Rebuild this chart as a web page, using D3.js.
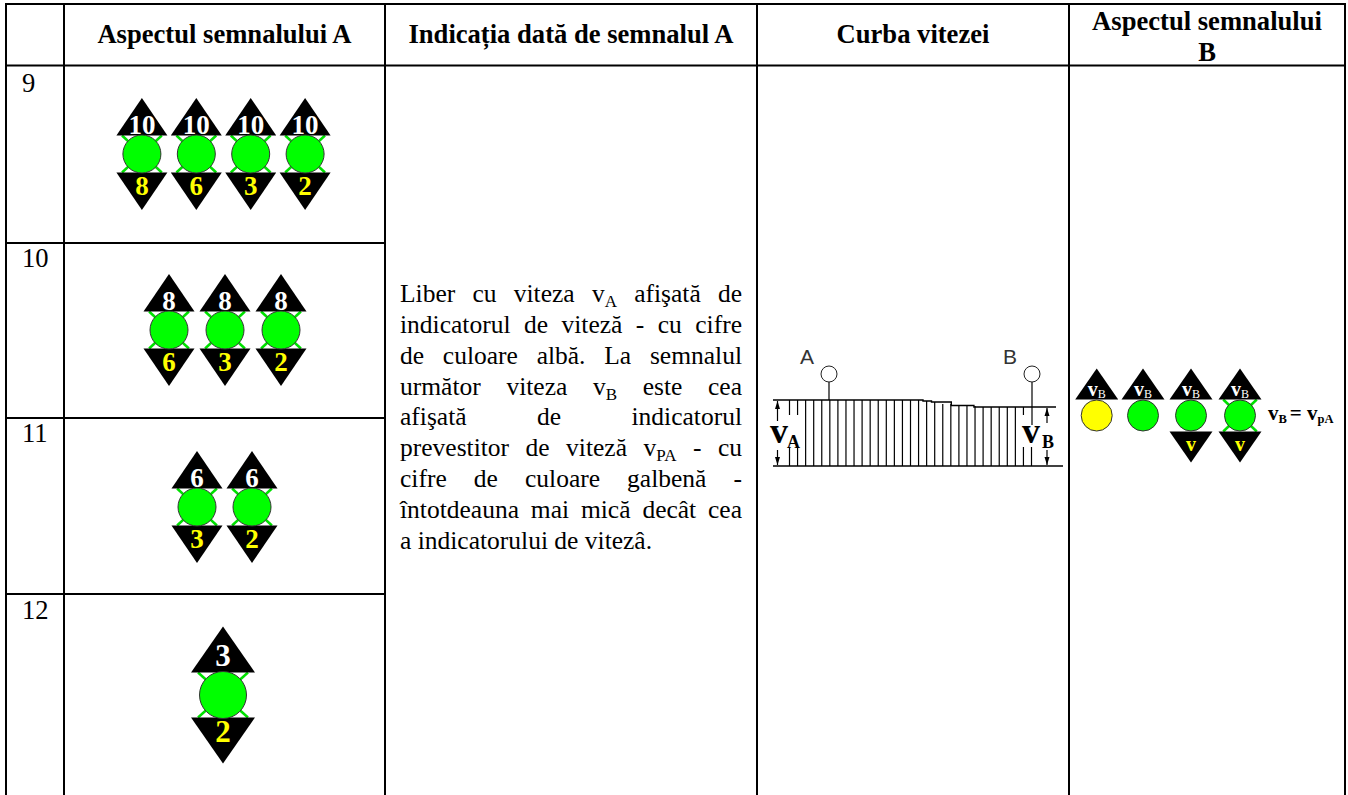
<!DOCTYPE html>
<meta charset="utf-8">
<style>
  html, body { margin: 0; background: #fff; }
  svg { display: block; }
  text { font-family: "Liberation Serif", serif; }
</style>
<script src="https://d3js.org/d3.v7.min.js"></script>
<div id="my_dataviz"></div>
<script>
// table text
var headers = ["Aspectul semnalului A", "Indicația dată de semnalul A", "Curba vitezei"];
var lastHeader = ["Aspectul semnalului", "B"];
var rowLabels = ["9", "10", "11", "12"];

// speed shown on each signal of each row
var upperValues = [["10", "10", "10", "10"], ["8", "8", "8"], ["6", "6"], ["3"]];
var lowerValues = [["8", "6", "3", "2"], ["6", "3", "2"], ["3", "2"], ["2"]];

// description, one entry per printed line (sub = subscript)
var descLines = [
  [["Liber cu viteza v"], ["A", "sub"], [" afişată de"]],
  [["indicatorul de viteză - cu cifre"]],
  [["de culoare albă. La semnalul"]],
  [["următor viteza v"], ["B", "sub"], [" este cea"]],
  [["afişată de indicatorul"]],
  [["prevestitor de viteză v"], ["PA", "sub"], [" - cu"]],
  [["cifre de culoare galbenă -"]],
  [["întotdeauna mai mică decât cea"]],
  [["a indicatorului de vitezâ."]]
];

// speed curve: speed at each hatch
var hatchSpeeds = [66, 66, 66, 66, 66, 66, 66, 66, 66, 66, 66, 66, 66, 66, 66, 66, 66, 65, 64, 62, 62, 60, 60, 60, 59, 59, 59, 59, 59, 59, 59];
var curveStations = [0, 53, 53, 56, 56, 63, 63, 71, 71, 100];
var curveSpeeds = [66, 66, 65, 65, 64, 64, 60.5, 60.5, 59, 59];

// signal B variants
var bColors = ["#ffff00", "#00ff00", "#00ff00", "#00ff00"];
var bLower = [false, false, true, true];
var bCross = [false, false, false, true];

var W = 1348, H = 795;
var svg = d3.select("#my_dataviz").append("svg").attr("width", W).attr("height", H);

// grid
var colX = [6, 64, 385, 757, 1069, 1345];
var rowY = [4, 65.5, 243, 418, 594];
var ink = "#000";

function line(x1, y1, x2, y2, w, c) {
  return svg.append("line").attr("x1", x1).attr("y1", y1).attr("x2", x2).attr("y2", y2)
    .attr("stroke", c || ink).attr("stroke-width", w || 1);
}

[rowY[0], rowY[1]].forEach(function(y) { line(colX[0] - 1, y, colX[5] + 1, y, 2); });
[rowY[2], rowY[3], rowY[4]].forEach(function(y) { line(colX[0], y, colX[2], y, 2); });
colX.forEach(function(x) { line(x, rowY[0], x, H, 2); });

// header
var colCenter = [224.5, 571, 913];
headers.forEach(function(h, i) {
  svg.append("text").attr("x", colCenter[i]).attr("y", 43).attr("text-anchor", "middle")
    .attr("font-weight", "bold").attr("font-size", 26.6).text(h);
});
lastHeader.forEach(function(h, i) {
  svg.append("text").attr("x", 1207).attr("y", 30 + i * 30.5).attr("text-anchor", "middle")
    .attr("font-weight", "bold").attr("font-size", 26.6).text(h);
});

// row numbers
var labelY = [92, 267, 442, 619];
rowLabels.forEach(function(l, i) {
  svg.append("text").attr("x", 22).attr("y", labelY[i]).attr("font-size", 26.6).text(l);
});

// one signal: triangles above and below a lamp
function signal(g, o) {
  var s = o.size; // half width of triangle
  if (o.cross) {
    g.append("line").attr("x1", -s * 0.78).attr("y1", -o.gap).attr("x2", s * 0.78).attr("y2", o.gap)
      .attr("stroke", "#00e000").attr("stroke-width", 2.5);
    g.append("line").attr("x1", s * 0.78).attr("y1", -o.gap).attr("x2", -s * 0.78).attr("y2", o.gap)
      .attr("stroke", "#00e000").attr("stroke-width", 2.5);
  }
  g.append("path").attr("fill", ink)
    .attr("d", "M" + (-s) + "," + (-o.gap) + "L0," + (-o.gap - o.tri) + "L" + s + "," + (-o.gap) + "Z");
  if (o.lower !== false) {
    g.append("path").attr("fill", ink)
      .attr("d", "M" + (-s) + "," + o.gap + "L0," + (o.gap + o.tri) + "L" + s + "," + o.gap + "Z");
  }
  g.append("circle").attr("r", o.r).attr("fill", o.color || "#00ff00").attr("stroke", "#333").attr("stroke-width", 1);
}

// signal A rows
var rowCenter = [154, 330, 507, 695];
var rowMid = [223.5, 225, 224.5, 223];
var rowStep = [54.4, 56, 55, 55];
upperValues.forEach(function(vals, r) {
  var big = r == 3;
  var step = rowStep[r];
  var x0 = rowMid[r] - (vals.length - 1) / 2 * step;
  var x = d3.scaleLinear().domain([0, 1]).range([x0, x0 + step]);
  var opts = big ? {size: 32, tri: 46, gap: 22.5, r: 23.5, cross: true}
                 : {size: 25.5, tri: 37.5, gap: 18.5, r: 19, cross: true};
  vals.forEach(function(v, i) {
    var g = svg.append("g").attr("transform", "translate(" + x(i) + "," + rowCenter[r] + ")");
    signal(g, opts);
    g.append("text").attr("y", big ? -29 : -20).attr("text-anchor", "middle")
      .attr("font-weight", "bold").attr("font-size", big ? 31 : 27).attr("fill", "#fff").text(v);
    g.append("text").attr("y", big ? 47 : 41).attr("text-anchor", "middle")
      .attr("font-weight", "bold").attr("font-size", big ? 31 : 27).attr("fill", "#ffff00").text(lowerValues[r][i]);
  });
});

// justified description
var descLeft = 400, descRight = 742, descTop = 302, descStep = 30.85;
descLines.forEach(function(parts, i) {
  var t = svg.append("text").attr("x", descLeft).attr("y", descTop + i * descStep).attr("font-size", 25.5);
  var shift = 0;
  parts.forEach(function(p) {
    var span = t.append("tspan").style("white-space", "pre").text(p[0]);
    if (p[1] == "sub") {
      span.attr("dy", 5).attr("font-size", 17);
      shift = -5;
    } else if (shift) {
      span.attr("dy", shift);
      shift = 0;
    }
  });
  if (i < descLines.length - 1) {
    var gaps = parts.map(function(p) { return p[0]; }).join("").split(" ").length - 1;
    var extra = (descRight - descLeft - t.node().getComputedTextLength()) / gaps;
    t.style("word-spacing", extra + "px");
  }
});

// speed curve
var cx = d3.scaleLinear().domain([0, 100]).range([773, 1056]);
var cy = d3.scaleLinear().domain([0, 66]).range([466, 400]);
var hx = d3.scaleLinear().domain([0, hatchSpeeds.length - 1]).range([789.5, 1031.5]);
var curve = svg.append("g");

hatchSpeeds.forEach(function(s, i) {
  var x = hx(i);
  if (i < 2 || i == hatchSpeeds.length - 2) {
    // hatch broken by the speed label
    curve.append("line").attr("x1", x).attr("x2", x).attr("y1", cy(s)).attr("y2", 415).attr("stroke", ink).attr("stroke-width", 1.2);
    curve.append("line").attr("x1", x).attr("x2", x).attr("y1", 447).attr("y2", cy(0)).attr("stroke", ink).attr("stroke-width", 1.2);
  } else if (i == hatchSpeeds.length - 1) {
    curve.append("line").attr("x1", x).attr("x2", x).attr("y1", 447).attr("y2", cy(0)).attr("stroke", ink).attr("stroke-width", 1.2);
  } else {
    curve.append("line").attr("x1", x).attr("x2", x).attr("y1", cy(s)).attr("y2", cy(0)).attr("stroke", ink).attr("stroke-width", 1.2);
  }
});
curve.append("path").attr("fill", "none").attr("stroke", ink).attr("stroke-width", 1.4)
  .attr("d", d3.line().x(function(d) { return cx(d[0]); }).y(function(d) { return cy(d[1]); })(d3.zip(curveStations, curveSpeeds)));
curve.append("line").attr("x1", 773).attr("x2", 1063).attr("y1", cy(0)).attr("y2", cy(0)).attr("stroke", ink).attr("stroke-width", 1.6);

// posts
[[829, "A", 807, 400], [1032, "B", 1010, 425]].forEach(function(p) {
  curve.append("line").attr("x1", p[0]).attr("x2", p[0]).attr("y1", 382).attr("y2", p[3]).attr("stroke", ink).attr("stroke-width", 1.2);
  curve.append("circle").attr("cx", p[0]).attr("cy", 374).attr("r", 8).attr("fill", "#fff").attr("stroke", "#222");
  curve.append("text").attr("x", p[2]).attr("y", 364).attr("text-anchor", "middle")
    .style("font-family", "Liberation Sans").attr("font-size", 21).attr("fill", "#333").text(p[1]);
});

// little arrows beside the speed labels
function arrow(x, y1, y2) {
  var d = y2 > y1 ? 8 : -8;
  curve.append("line").attr("x1", x).attr("x2", x).attr("y1", y1).attr("y2", y2).attr("stroke", ink).attr("stroke-width", 1.2);
  curve.append("path").attr("fill", ink)
    .attr("d", "M" + (x - 2.5) + "," + (y1 + d) + "L" + x + "," + y1 + "L" + (x + 2.5) + "," + (y1 + d) + "Z");
}
arrow(777.5, 401, 421);
arrow(777.5, 465, 450);
arrow(1047, 408, 423);
arrow(1047, 465, 450);

function speedLabel(x, y, main, sub, subDx, subDy) {
  var t = curve.append("text").attr("x", x).attr("y", y).attr("font-weight", "bold");
  t.append("tspan").attr("font-size", 36).text(main);
  t.append("tspan").attr("font-size", 18).attr("dx", subDx).attr("dy", subDy).text(sub);
}
speedLabel(770, 443, "v", "A", -1, 5);
speedLabel(1022, 443, "v", "B", 2, 5);

// signal B
var bx = d3.scaleLinear().domain([0, 1, 2, 3]).range([1096.7, 1143, 1191, 1240]);
bColors.forEach(function(c, i) {
  var g = svg.append("g").attr("transform", "translate(" + bx(i) + ",415.5)");
  signal(g, {size: 21.5, tri: 31, gap: 16, r: 15.5, cross: bCross[i], lower: bLower[i], color: c});
  var t = g.append("text").attr("y", -20).attr("text-anchor", "middle").attr("fill", "#fff").attr("font-weight", "bold");
  t.append("tspan").attr("font-size", 20).text("v");
  t.append("tspan").attr("font-size", 12).attr("font-weight", "normal").attr("dy", 2).text("B");
  if (bLower[i]) {
    g.append("text").attr("y", 35).attr("text-anchor", "middle").attr("fill", "#ffff00")
      .attr("font-weight", "bold").attr("font-size", 20).text("v");
  }
});

var eq = svg.append("text").attr("x", 1268).attr("y", 420).attr("font-weight", "bold").attr("font-size", 21);
eq.append("tspan").text("v");
eq.append("tspan").attr("font-size", 12.5).attr("dy", 3).text("B");
eq.append("tspan").attr("dy", -3).attr("dx", 3).text("= v");
eq.append("tspan").attr("font-size", 12.5).attr("dy", 3).text("pA");
</script>
